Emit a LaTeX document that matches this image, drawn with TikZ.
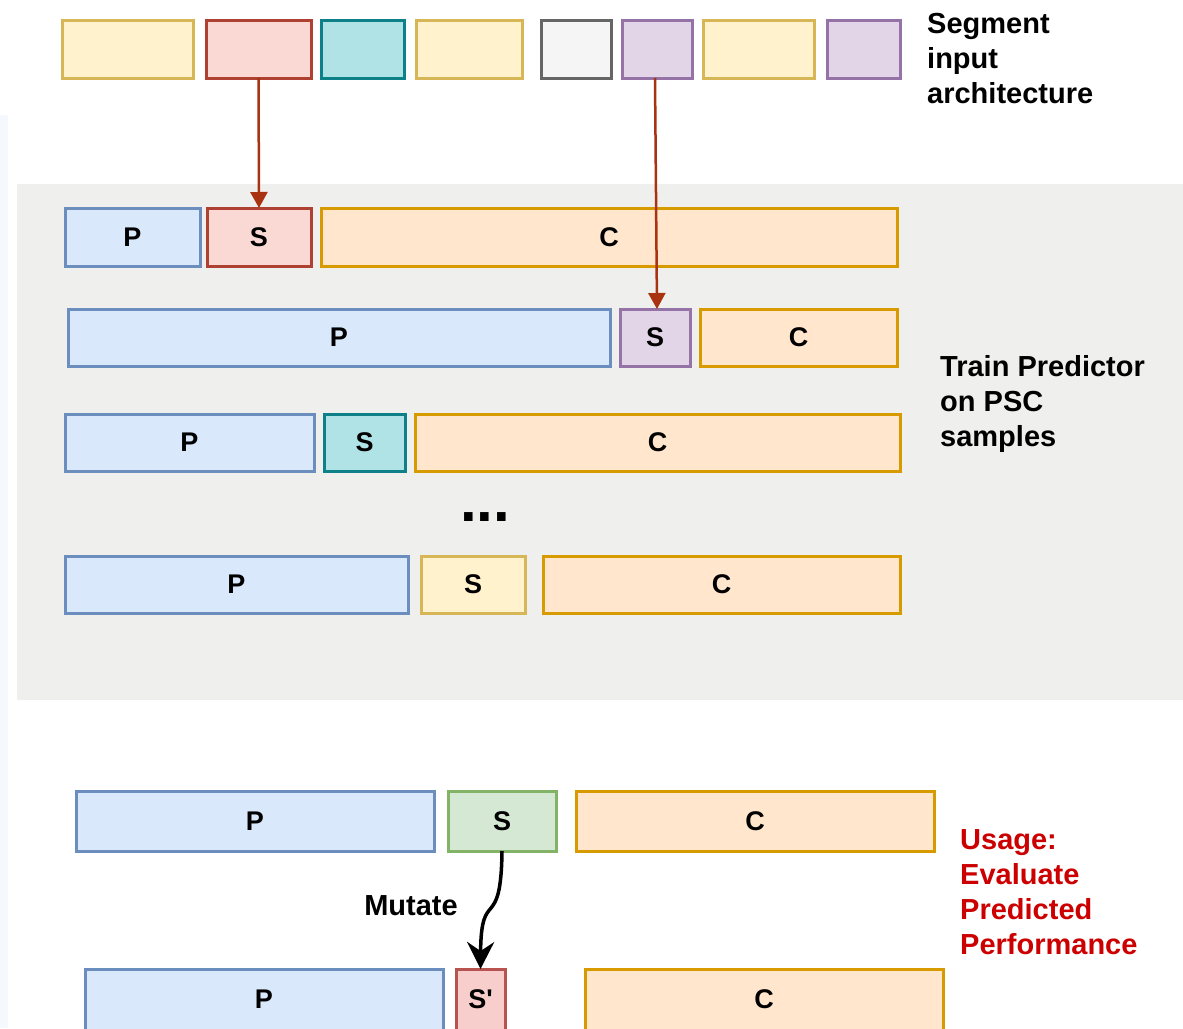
\documentclass[tikz,border=0pt]{standalone}
\usepackage{fontspec}
\setmainfont{Liberation Sans}
\usetikzlibrary{arrows.meta}
\definecolor{yelF}{HTML}{FFF2CC}\definecolor{yelD}{HTML}{D6B656}
\definecolor{redF}{HTML}{FAD9D5}\definecolor{redD}{HTML}{AE4132}
\definecolor{red2F}{HTML}{F8CECC}\definecolor{red2D}{HTML}{B85450}
\definecolor{tealF}{HTML}{B0E3E6}\definecolor{tealD}{HTML}{0E8088}
\definecolor{grayF}{HTML}{F5F5F5}\definecolor{grayD}{HTML}{666666}
\definecolor{purF}{HTML}{E1D5E7}\definecolor{purD}{HTML}{9673A6}
\definecolor{bluF}{HTML}{DAE8FC}\definecolor{bluD}{HTML}{6C8EBF}
\definecolor{oraF}{HTML}{FFE6CC}\definecolor{oraD}{HTML}{D79B00}
\definecolor{grnF}{HTML}{D5E8D4}\definecolor{grnD}{HTML}{82B366}
\definecolor{panelF}{HTML}{EFEFED}
\definecolor{stripF}{HTML}{F5F8FC}
\definecolor{arrRed}{HTML}{A93311}
\definecolor{txtRed}{HTML}{CC0000}
\newcommand\segbox[7]{\node[seg,#6, minimum width={#4-#2}, minimum height={#5-#3}] (#1) at ({(#2+#4)/2},{(#3+#5)/2}) {#7};}
\newcommand\straightquote{\XeTeXglyph\XeTeXcharglyph"27\relax}
\tikzset{
  seg/.style={draw, line width=3pt, inner sep=0pt, outer sep=0pt, font=\fontsize{27}{32}\selectfont\bfseries},
  yel/.style={fill=yelF, draw=yelD},
  redb/.style={fill=redF, draw=redD},
  redc/.style={fill=red2F, draw=red2D},
  teal/.style={fill=tealF, draw=tealD},
  grayb/.style={fill=grayF, draw=grayD},
  pur/.style={fill=purF, draw=purD},
  blu/.style={fill=bluF, draw=bluD},
  ora/.style={fill=oraF, draw=oraD},
  grn/.style={fill=grnF, draw=grnD},
  sidetext/.style={font=\fontsize{29}{35}\selectfont\bfseries, align=left, inner sep=0pt, anchor=north west},
  redarrow/.style={draw=arrRed, line width=2.5pt, -{Triangle[length=16pt,width=17pt]}},
  mutarrow/.style={draw=black, line width=3.5pt, -{Stealth[length=27pt,width=27pt,inset=9pt]}}
}
\begin{document}
\begin{tikzpicture}[x=1pt,y=-1pt]
\useasboundingbox (0,0) rectangle (1183,1028);
\clip (0,0) rectangle (1183,1028);
\fill[white] (0,0) rectangle (1183,1028);
\fill[stripF] (0,115) rectangle (8,1028);
\fill[panelF] (17,184) rectangle (1183,700);
% top row
\segbox{t1}{62}{20}{193}{78}{yel}{}
\segbox{t2}{206}{20}{311}{78}{redb}{}
\segbox{t3}{321}{20}{404}{78}{teal}{}
\segbox{t4}{416}{20}{522}{78}{yel}{}
\segbox{t5}{541}{20}{611}{78}{grayb}{}
\segbox{t6}{622}{20}{692}{78}{pur}{}
\segbox{t7}{703}{20}{814}{78}{yel}{}
\segbox{t8}{827}{20}{900}{78}{pur}{}
\node[sidetext] (segtxt) at (927,13) {Segment\\input\\architecture};
% row 1
\segbox{r1p}{65}{208}{200}{266}{blu}{P}
\segbox{r1s}{207}{208}{311}{266}{redb}{S}
\segbox{r1c}{321}{208}{897}{266}{ora}{C}
% row 2
\segbox{r2p}{68}{309}{610}{366}{blu}{P}
\segbox{r2s}{620}{309}{690}{366}{pur}{S}
\segbox{r2c}{700}{309}{897}{366}{ora}{C}
% row 3
\segbox{r3p}{65}{414}{314}{471}{blu}{P}
\segbox{r3s}{324}{414}{405}{471}{teal}{S}
\segbox{r3c}{415}{414}{900}{471}{ora}{C}
\node[font=\fontsize{60}{60}\selectfont\bfseries, anchor=base, inner sep=0pt] (dots) at (485,521) {...};
% row 4
\segbox{r4p}{65}{556}{408}{613}{blu}{P}
\segbox{r4s}{421}{556}{525}{613}{yel}{S}
\segbox{r4c}{543}{556}{900}{613}{ora}{C}
\node[sidetext] (traintxt) at (940,355) {Train Predictor\\on PSC\\samples};
% bottom rows
\segbox{b1p}{76}{791}{434}{851}{blu}{P}
\segbox{b1s}{448}{791}{556}{851}{grn}{S}
\segbox{b1c}{576}{791}{934}{851}{ora}{C}
\segbox{b2p}{85}{969}{443}{1030}{blu}{P}
\segbox{b2s}{456}{969}{505}{1030}{redc}{S\straightquote}
\segbox{b2c}{585}{969}{943}{1030}{ora}{C}
\node[sidetext, text=txtRed] (usetxt) at (960,829) {Usage:\\Evaluate\\Predicted\\Performance};
\node[font=\fontsize{29}{35}\selectfont\bfseries, inner sep=0pt] (muttxt) at (411,906) {Mutate};
% arrows
\draw[redarrow] (t2.south) -- (r1s.north);
\draw[redarrow] ([xshift=-2pt]t6.south) -- ([xshift=2pt]r2s.north);
\draw[mutarrow] (b1s.south) .. controls (501,935) and (481,885) .. (b2s.north);
\end{tikzpicture}
\end{document}
